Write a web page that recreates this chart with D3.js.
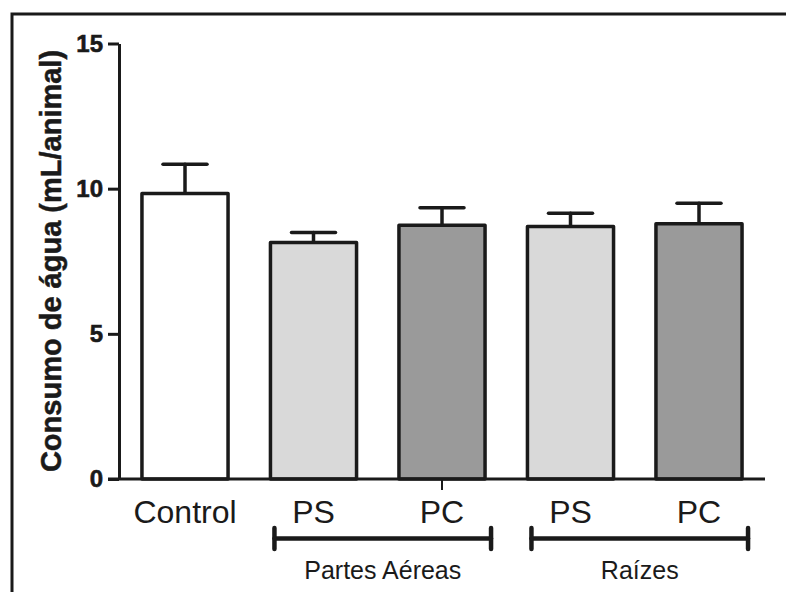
<!DOCTYPE html>
<html>
<head>
<meta charset="utf-8">
<script src="https://cdn.jsdelivr.net/npm/d3@7"></script>
<style>
  body { margin: 0; background: #fff; }
  text { font-family: "Liberation Sans", Arial, sans-serif; }
</style>
</head>
<body>
<script>
// data
const ids = ["control", "ps_a", "pc_a", "ps_r", "pc_r"];
const labels = ["Control", "PS", "PC", "PS", "PC"];
const means = [9.83, 8.15, 8.74, 8.70, 8.79];
const errs = [1.01, 0.34, 0.60, 0.45, 0.71];
const fills = ["#ffffff", "#d9d9d9", "#9a9a9a", "#d9d9d9", "#9a9a9a"];
const yTicks = [0, 5, 10, 15];
const groupNames = ["Partes Aéreas", "Raízes"];
const groupFrom = ["ps_a", "ps_r"];
const groupTo = ["pc_a", "pc_r"];

const width = 786, height = 592;
const ink = "#1a1a1a";

const svg = d3.select("body").append("svg")
    .attr("width", width)
    .attr("height", height);

// outer frame
svg.append("rect")
    .attr("x", 12).attr("y", 14)
    .attr("width", 800).attr("height", 600)
    .attr("fill", "none")
    .attr("stroke", ink)
    .attr("stroke-width", 3);

const y = d3.scaleLinear()
    .domain([0, 15])
    .range([479, 43.5]);

const x = d3.scaleBand()
    .domain(ids)
    .range([120.75, 763.25])
    .paddingInner(0.33)
    .paddingOuter(0.165);

const data = ids.map((id, i) => ({id, label: labels[i], mean: means[i], err: errs[i], fill: fills[i]}));

// error bars (drawn first so bar tops sit over them)
const eb = svg.append("g")
    .attr("stroke", ink)
    .attr("stroke-width", 3.5)
    .attr("stroke-linecap", "round");

eb.selectAll("line.v")
  .data(data).enter()
  .append("line")
    .attr("class", "v")
    .attr("x1", d => x(d.id) + x.bandwidth() / 2)
    .attr("x2", d => x(d.id) + x.bandwidth() / 2)
    .attr("y1", d => y(d.mean))
    .attr("y2", d => y(d.mean + d.err));

eb.selectAll("line.cap")
  .data(data).enter()
  .append("line")
    .attr("class", "cap")
    .attr("x1", d => x(d.id) + x.bandwidth() / 2 - 22)
    .attr("x2", d => x(d.id) + x.bandwidth() / 2 + 22)
    .attr("y1", d => y(d.mean + d.err))
    .attr("y2", d => y(d.mean + d.err));

// bars
svg.append("g")
  .selectAll("rect")
  .data(data).enter()
  .append("rect")
    .attr("x", d => x(d.id))
    .attr("y", d => y(d.mean))
    .attr("width", x.bandwidth())
    .attr("height", d => y(0) - y(d.mean))
    .attr("fill", d => d.fill)
    .attr("stroke", ink)
    .attr("stroke-width", 3.5)
    .attr("stroke-linejoin", "round");

// y axis
const gy = svg.append("g")
    .attr("transform", "translate(119,0)")
    .call(d3.axisLeft(y).tickValues(yTicks).tickSize(11).tickSizeOuter(0).tickPadding(5));
gy.select(".domain").attr("stroke", ink).attr("stroke-width", 3);
gy.selectAll(".tick line").attr("stroke", ink).attr("stroke-width", 3);
gy.selectAll(".tick text")
    .attr("fill", ink)
    .attr("stroke", ink)
    .attr("stroke-width", 0.6)
    .style("font-family", "'Liberation Sans', Arial, sans-serif")
    .style("font-size", "24px")
    .style("font-weight", "bold");

// x baseline
svg.append("line")
    .attr("x1", 108).attr("x2", 765)
    .attr("y1", y(0)).attr("y2", y(0))
    .attr("stroke", ink)
    .attr("stroke-width", 3);

// stray tick under the second bar pair, as in the original
svg.append("line")
    .attr("x1", x("pc_a") + x.bandwidth() / 2)
    .attr("x2", x("pc_a") + x.bandwidth() / 2)
    .attr("y1", y(0)).attr("y2", y(0) + 11)
    .attr("stroke", ink)
    .attr("stroke-width", 2);

// category labels
svg.append("g")
  .selectAll("text")
  .data(data).enter()
  .append("text")
    .attr("x", d => x(d.id) + x.bandwidth() / 2)
    .attr("y", 523)
    .attr("text-anchor", "middle")
    .attr("fill", ink)
    .style("font-size", "32px")
    .text(d => d.label);

// group brackets
const groups = groupNames.map((name, i) => ({
  name,
  x0: x(groupFrom[i]) + 4,
  x1: x(groupTo[i]) + x.bandwidth() + 6
}));

const gb = svg.append("g")
    .attr("stroke", ink)
    .attr("stroke-width", 4.5)
    .attr("stroke-linecap", "round");

gb.selectAll("line.h")
  .data(groups).enter()
  .append("line")
    .attr("x1", d => d.x0).attr("x2", d => d.x1)
    .attr("y1", 538.5).attr("y2", 538.5);

gb.selectAll("line.l")
  .data(groups).enter()
  .append("line")
    .attr("x1", d => d.x0).attr("x2", d => d.x0)
    .attr("y1", 528).attr("y2", 549);

gb.selectAll("line.r")
  .data(groups).enter()
  .append("line")
    .attr("x1", d => d.x1).attr("x2", d => d.x1)
    .attr("y1", 528).attr("y2", 549);

svg.append("g")
  .selectAll("text")
  .data(groups).enter()
  .append("text")
    .attr("x", d => (d.x0 + d.x1) / 2)
    .attr("y", 579)
    .attr("text-anchor", "middle")
    .attr("fill", ink)
    .style("font-size", "25px")
    .text(d => d.name);

// y axis title
svg.append("text")
    .attr("transform", "translate(61,261) rotate(-90)")
    .attr("text-anchor", "middle")
    .attr("fill", ink)
    .attr("stroke", ink)
    .attr("stroke-width", 0.5)
    .style("font-size", "29px")
    .style("font-weight", "bold")
    .text("Consumo de água (mL/animal)");
</script>
</body>
</html>
